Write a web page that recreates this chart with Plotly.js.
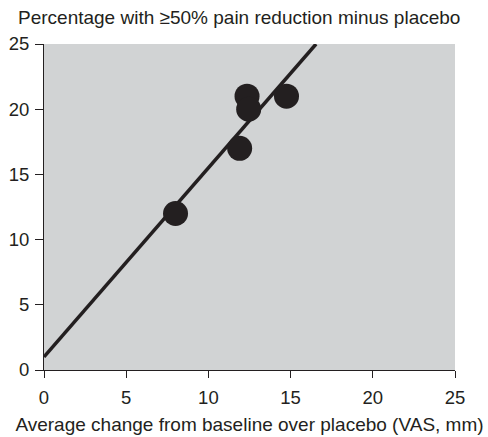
<!DOCTYPE html>
<html>
<head>
<meta charset="utf-8">
<script src="https://cdn.plot.ly/plotly-3.0.1.min.js"></script>
<style>html,body{margin:0;padding:0;background:#fff;}</style>
</head>
<body>
<div id="chart" style="width:488px;height:437px;"></div>
<script>
// Study points
const studyX = [8.0, 11.9, 12.35, 12.45, 14.75];
const studyY = [12, 17, 21, 20, 21];
// Regression line endpoints
const fitX = [0, 16.55];
const fitY = [1, 25];
const tickVals = [0, 5, 10, 15, 20, 25];
const tickText = ['0', '5', '10', '15', '20', '25'];

const font = {family: 'Liberation Sans, Arial, sans-serif', size: 19, color: '#231f20'};
const tfont = {family: 'Liberation Sans, Arial, sans-serif', size: 18.5, color: '#231f20'};

Plotly.newPlot('chart', [
  {x: fitX, y: fitY, mode: 'lines', line: {color: '#231f20', width: 3.5}, hoverinfo: 'skip'},
  {x: studyX, y: studyY, mode: 'markers', marker: {color: '#231f20', size: 25}}
], {
  width: 488, height: 437,
  margin: {l: 44, r: 32.5, t: 44, b: 67},
  paper_bgcolor: '#ffffff',
  plot_bgcolor: '#d1d3d4',
  showlegend: false,
  font: font,
  title: {text: 'Percentage with ≥50% pain reduction minus placebo', x: 18/488, xanchor: 'left', xref: 'container', y: 1 - 17/437, yanchor: 'middle', yref: 'container', font: font},
  xaxis: {range: [0, 25], tickvals: tickVals, ticktext: tickText, showgrid: false, zeroline: false,
    showline: true, linecolor: '#231f20', linewidth: 1, ticks: 'outside', ticklen: 7, tickcolor: '#231f20',
    ticklabelstandoff: 4,
    tickfont: tfont, title: {text: 'Average change from baseline over placebo (VAS, mm)', font: font, standoff: 10}},
  yaxis: {range: [0, 25], tickvals: tickVals, ticktext: tickText, showgrid: false, zeroline: false,
    showline: true, linecolor: '#231f20', linewidth: 1, ticks: 'outside', ticklen: 8, tickcolor: '#231f20',
    ticklabelstandoff: 2,
    tickfont: tfont}
}, {displayModeBar: false, staticPlot: true});
</script>
</body>
</html>
